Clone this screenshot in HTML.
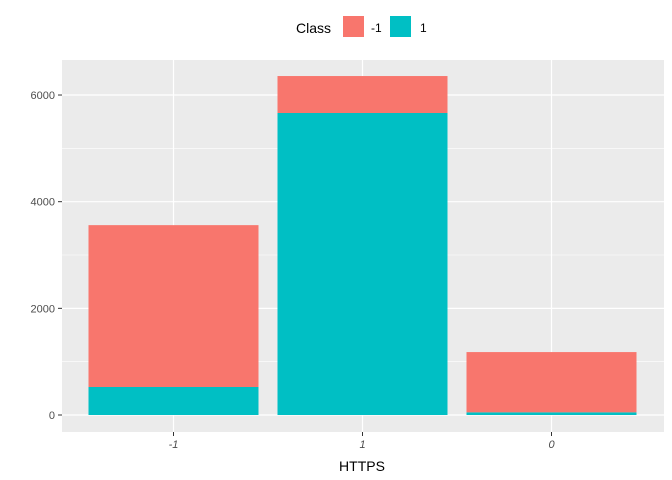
<!DOCTYPE html>
<html><head><meta charset="utf-8"><style>body{margin:0;background:#fff}svg{display:block;font-family:"Liberation Sans",Arial,sans-serif}</style></head>
<body>
<svg id="c" width="672" height="480">
<rect x="62" y="60" width="602" height="372" fill="#ebebeb"/>
<g id="grid"></g><g id="bars"></g><g id="axes"></g>
<g>
<text x="296" y="33" font-size="14" fill="#000">Class</text>
<rect x="343" y="16" width="21" height="21" fill="#f8766d"/>
<text x="371" y="32" font-size="12">-1</text>
<rect x="390" y="16" width="21" height="21" fill="#00bfc4"/>
<text x="420" y="32" font-size="12">1</text>
</g>
<text x="362" y="471" font-size="14" text-anchor="middle">HTTPS</text>
</svg>
<script>
const categories=["-1","1","0"];
const negValues=[3035,693,1130];
const posValues=[525,5663,50];
const yTicks=[0,2000,4000,6000];
const ns="http://www.w3.org/2000/svg";
const y=v=>415-v*0.05333;
const xc=i=>173.5+i*189;
const bw=170;
function mk(t,a,p){const e=document.createElementNS(ns,t);for(const k in a)e.setAttribute(k,a[k]);p.appendChild(e);return e;}
const G=document.getElementById('grid'),B=document.getElementById('bars'),A=document.getElementById('axes');
for(let i=0;i<yTicks.length-1;i++){const m=(yTicks[i]+yTicks[i+1])/2;const l=mk('line',{x1:62,x2:664,y1:y(m),y2:y(m),stroke:'#fff','stroke-width':0.6},G);

}
yTicks.forEach(t=>{const l=mk('line',{x1:62,x2:664,y1:y(t),y2:y(t),stroke:'#fff','stroke-width':1.2},G);


const tx=mk('text',{x:55,y:y(t)+4,'font-size':11,fill:'#4d4d4d','text-anchor':'end'},A);tx.textContent=t;


const tk=mk('line',{x1:58,x2:62,y1:y(t),y2:y(t),stroke:'#333'},A);

});
categories.forEach((c,i)=>{const g=mk('line',{x1:xc(i),x2:xc(i),y1:60,y2:432,stroke:'#fff','stroke-width':1.2},G);


const p=posValues[i],n=negValues[i];
const r1=mk('rect',{x:xc(i)-bw/2,width:bw,y:y(p),height:y(0)-y(p),fill:'#00bfc4'},B);


const r2=mk('rect',{x:xc(i)-bw/2,width:bw,y:y(p+n),height:y(p)-y(p+n),fill:'#f8766d'},B);


const tk=mk('line',{x1:xc(i),x2:xc(i),y1:432,y2:436,stroke:'#333'},A);


const tx=mk('text',{x:xc(i),y:448,'font-size':11,fill:'#4d4d4d','text-anchor':'middle','font-style':'italic'},A);tx.textContent=c;

});
</script>
</body></html>
